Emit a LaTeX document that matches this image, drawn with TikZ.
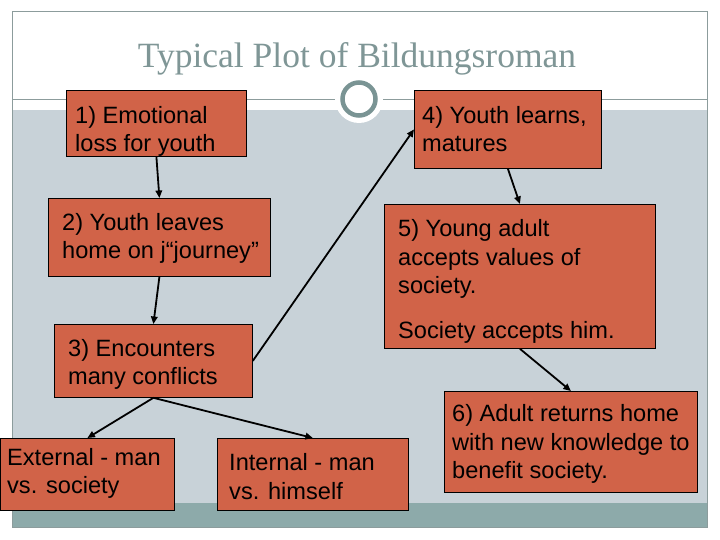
\documentclass[tikz,border=0pt]{standalone}
\usepackage{fontspec}
\setmainfont{Liberation Sans}
\newfontfamily\titlefont{Liberation Serif}
\usetikzlibrary{arrows.meta}
\definecolor{boxfill}{RGB}{209,99,72}
\definecolor{panel}{RGB}{200,210,216}
\definecolor{band}{RGB}{141,170,170}
\definecolor{framecol}{RGB}{140,156,156}
\definecolor{ringcol}{RGB}{122,148,148}
\definecolor{titlecol}{RGB}{127,150,150}
\begin{document}
\begin{tikzpicture}[x=1pt,y=-1pt,
  box/.style={draw=black, line width=0.8pt, fill=boxfill, inner sep=0pt, anchor=north west},
  txt/.style={font=\fontsize{23.6}{28.3}\selectfont, align=left, inner sep=0pt, anchor=north west, text=black},
  arr/.style={-{Triangle[length=7.5pt,width=6.5pt]}, line width=1.8pt, black}]
\useasboundingbox (0,0) rectangle (720,540);
% slide background
\fill[white] (0,0) rectangle (720,540);
\fill[panel] (12,110) rectangle (707,503);
\fill[band] (12,503) rectangle (707,527);
\draw[framecol, line width=1pt] (12,12) rectangle (707,527);
\draw[framecol, line width=1pt] (12,100) -- (336,100);
\draw[framecol, line width=1pt] (382,100) -- (707,100);
\fill[white] (359,99) circle[radius=24];
\draw[ringcol, line width=4.5pt] (359,99) circle[radius=16.5];
% title
\node[font=\titlefont\fontsize{35.5}{40}\selectfont, text=titlecol, anchor=base, inner sep=0pt] (title) at (357,68) {Typical Plot of Bildungsroman};
% boxes
\node[box, minimum width=180pt, minimum height=66pt] (b1) at (66,90) {};
\node[box, minimum width=222pt, minimum height=78pt] (b2) at (48,198) {};
\node[box, minimum width=198pt, minimum height=73pt] (b3) at (54,324) {};
\node[box, minimum width=187pt, minimum height=78pt] (b4) at (414,90) {};
\node[box, minimum width=271pt, minimum height=144pt] (b5) at (384,204) {};
\node[box, minimum width=253pt, minimum height=101pt] (b6) at (444,391) {};
\node[box, minimum width=174pt, minimum height=72pt] (ext) at (0,438) {};
\node[box, minimum width=191pt, minimum height=72pt] (int) at (217,438) {};
% texts
\node[txt] (t1) at (75,103.2) {\strut 1) Emotional\\loss for youth};
\node[txt] (t2) at (62,210.2) {\strut 2) Youth leaves\\home on j“journey”};
\node[txt] (t3) at (68,336.2) {\strut 3) Encounters\\many conflicts};
\node[txt] (t4) at (422,103.5) {\strut 4) Youth learns,\\matures};
\node[txt] (t5) at (398,216.9) {\strut 5) Young adult\\accepts values of\\society.\\[16.7pt]Society accepts him.};
\node[txt] (t6) at (452,401.9) {\strut 6) Adult returns home\\with new knowledge to\\benefit society.};
\node[txt] (te) at (7,445.2) {\strut External - man\\vs. society};
\node[txt] (ti) at (229,450.9) {\strut Internal - man\\vs. himself};
% connectors
\draw[arr] (b1.south) -- (b2.north);
\draw[arr] (b2.south) -- (b3.north);
\draw[arr] (b3.east) -- (b4.west);
\draw[arr] (b4.south) -- (b5.north);
\draw[arr] (b5.south) -- (b6.north);
\draw[arr] (b3.south) -- (ext.north);
\draw[arr] (b3.south) -- (int.north);
\end{tikzpicture}
\end{document}
